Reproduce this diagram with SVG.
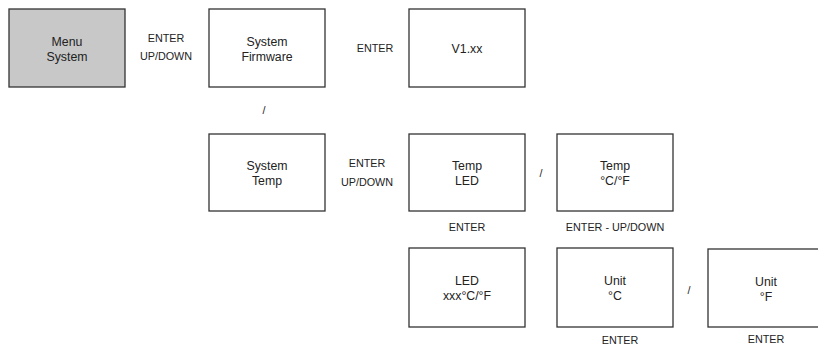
<svg xmlns="http://www.w3.org/2000/svg" width="818" height="347" viewBox="0 0 818 347">
<style>
.box{fill:#fff;stroke:#333;stroke-width:1.3}
.gray{fill:#c8c8c8}
.t{font-family:"Liberation Sans",Arial,sans-serif;font-size:12.3px;fill:#222;text-anchor:middle}
.l{font-family:"Liberation Sans",Arial,sans-serif;font-size:10.8px;fill:#222;text-anchor:middle}
</style>
<rect width="818" height="347" fill="#fff"/>
<g id="menu-system"><rect class="box gray" x="9" y="9" width="116" height="78"/><text class="t" x="67" y="46">Menu</text><text class="t" x="67" y="61">System</text></g>
<g id="system-firmware"><rect class="box" x="209" y="9" width="116" height="78"/><text class="t" x="267" y="46">System</text><text class="t" x="267" y="61">Firmware</text></g>
<g id="v1xx"><rect class="box" x="409" y="9" width="116" height="78"/><text class="t" x="467" y="53">V1.xx</text></g>
<g id="system-temp"><rect class="box" x="209" y="134" width="116" height="77"/><text class="t" x="267" y="170">System</text><text class="t" x="267" y="185">Temp</text></g>
<g id="temp-led"><rect class="box" x="409" y="134" width="116" height="77"/><text class="t" x="467" y="170">Temp</text><text class="t" x="467" y="185">LED</text></g>
<g id="temp-cf"><rect class="box" x="557" y="134" width="116" height="77"/><text class="t" x="615" y="170">Temp</text><text class="t" x="615" y="185">°C/°F</text></g>
<g id="led-xxx"><rect class="box" x="409" y="248" width="116" height="79"/><text class="t" x="467" y="285">LED</text><text class="t" x="467" y="300">xxx°C/°F</text></g>
<g id="unit-c"><rect class="box" x="557" y="248" width="116" height="79"/><text class="t" x="615" y="285">Unit</text><text class="t" x="615" y="300">°C</text></g>
<g id="unit-f"><rect class="box" x="708" y="249" width="116" height="78"/><text class="t" x="766" y="286">Unit</text><text class="t" x="766" y="301">°F</text></g>
<g id="connectors">
<text class="l" x="166" y="42">ENTER</text>
<text class="l" x="166" y="60">UP/DOWN</text>
<text class="l" x="375" y="52">ENTER</text>
<text class="l" x="264" y="114">/</text>
<text class="l" x="367" y="167">ENTER</text>
<text class="l" x="367" y="186">UP/DOWN</text>
<text class="l" x="541" y="177">/</text>
<text class="l" x="467" y="231">ENTER</text>
<text class="l" x="615" y="231">ENTER - UP/DOWN</text>
<text class="l" x="689" y="294">/</text>
<text class="l" x="620" y="344">ENTER</text>
<text class="l" x="766" y="343">ENTER</text>
</g>
</svg>
